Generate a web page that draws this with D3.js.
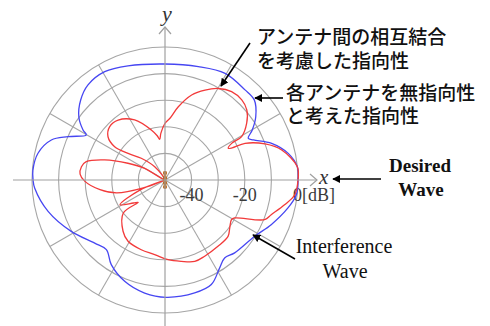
<!DOCTYPE html>
<html>
<head>
<meta charset="utf-8">
<script src="https://cdn.jsdelivr.net/npm/d3@7"></script>
<style>
  html, body { margin: 0; padding: 0; background: #fff; }
  svg { display: block; }
</style>
</head>
<body>
<svg id="chart" width="490" height="326"></svg>
<script>
// Ring levels (dB) and spoke directions (degrees, counter-clockwise from +x)
const ringLevels = [-40, -30, -20, -10, 0];
const spokeAngles = [30, 60, 120, 150, 210, 240, 300, 330];
const tickValues = [-40, -20, 0];
const tickLabels = ["-40", "-20", "0[dB]"];

// Pattern with every element treated as omnidirectional
const omniAngles = [0, 5.7, 12.2, 19, 24.4, 26.6, 29.8, 34.9, 41.9, 48.4, 60.6, 73.6, 90,
  108, 119.1, 129, 136.5, 143.7, 148.6, 150.2, 155.9, 160.6, 168.1, 175.7, 180, 183.5,
  195, 208.7, 221.9, 229.9, 237.6, 248.3, 259.8, 270.6, 284.7, 293.9, 301.9, 307.4,
  313.7, 327.9, 337.2, 347.2, 353.6, 360];
const omniDb = [0, 0, -2.6, -7.6, -13.5, -15, -12.2, -8.4, -4.9, -4.7, -4, -5.6, -6.4,
  -4.9, -3.4, -4, -6.3, -9.8, -13.9, -15.9, -10.1, -4.7, -1.2, -0.2, -0.4, -0.9,
  -4.5, -9.8, -14.5, -15.8, -12.3, -9, -6.8, -5.9, -6.1, -7, -11.1, -13.1,
  -12.1, -10.2, -6.7, -2.6, -0.3, 0];

// Pattern including mutual coupling between elements (measured trace, in order)
const coupledAngles = [0, 5.7, 14.4, 19.8, 24.6, 25.6, 26.6, 28.8, 29.5, 34.8, 40.6, 46.2,
  53, 59.8, 66, 72.6, 79.7, 85.4, 90, 95, 97.5, 100, 105.3, 116.8, 128, 136, 142.8,
  146.5, 144.2, 137.5, 127.8, 130, 150, 155.7, 161.6, 166.9, 171, 176, 181, 188.5,
  195, 200, 200, 201.8, 208.8, 216, 219.9, 218.4, 230.7, 238.9, 251.2, 262.1, 272.2,
  281.3, 290.1, 297.5, 308.6, 318.2, 323.4, 329.1, 331.4, 338.3, 341.9, 348.3, 353.5, 360];
const coupledDb = [0, 0, -4.7, -10, -16.9, -22, -23.4, -21.4, -16.9, -12.6, -9.5, -8.3,
  -8.4, -10.2, -13, -16.5, -22, -26.7, -28.7, -32.3, -34.6, -33.1, -30.5, -24.7, -21.4, -21.1, -23.1,
  -27.3, -32.9, -37.9, -43.7, -50, -41.2, -34.7, -26.1, -19.6, -18.2, -18, -19.9, -25.3,
  -31.2, -41.3, -50, -39.8, -30.7, -35.3, -36.9, -30, -25.1, -23.1, -22.3, -21.7, -20,
  -18.8, -17.4, -17.7, -18.1, -18.2, -19.7, -20.9, -20.2, -9.7, -8, -4.1, -0.9, 0];

const svg = d3.select("#chart");
const cx = 165, cy = 180, R = 133;
const r = d3.scaleLinear().domain([-50, 0]).range([0, R]).clamp(true);
const toRad = deg => (90 - deg) * Math.PI / 180;   // d3 radial: clockwise from 12 o'clock

const g = svg.append("g").attr("transform", `translate(${cx},${cy})`);
const gridColor = "#a6a6a6";

// Grid rings
g.selectAll("circle.ring").data(ringLevels).join("circle")
  .attr("class", "ring")
  .attr("r", d => r(d))
  .attr("fill", "none")
  .attr("stroke", gridColor)
  .attr("stroke-width", 1.1);

// Spokes
g.selectAll("line.spoke").data(spokeAngles).join("line")
  .attr("class", "spoke")
  .attr("x1", 0).attr("y1", 0)
  .attr("x2", d => r(0) * Math.sin(toRad(d)))
  .attr("y2", d => -r(0) * Math.cos(toRad(d)))
  .attr("stroke", gridColor)
  .attr("stroke-width", 1.1);

// Axes with open arrowheads
const axisColor = "#a0a0a0";
svg.append("line").attr("x1", 13).attr("y1", cy).attr("x2", 317).attr("y2", cy)
  .attr("stroke", axisColor).attr("stroke-width", 1.2);
svg.append("path").attr("d", "M310,174 L317,180 L310,186")
  .attr("fill", "none").attr("stroke", axisColor).attr("stroke-width", 1.2);
svg.append("line").attr("x1", cx).attr("y1", 326).attr("x2", cx).attr("y2", 27)
  .attr("stroke", axisColor).attr("stroke-width", 1.2);
svg.append("path").attr("d", "M159,34 L165,27 L171,34")
  .attr("fill", "none").attr("stroke", axisColor).attr("stroke-width", 1.2);

const serif = "Liberation Serif, Times New Roman, serif";
svg.append("text").attr("x", 319).attr("y", 184)
  .attr("font-family", serif)
  .attr("font-style", "italic").attr("font-size", 21).attr("fill", "#333").text("x");
svg.append("text").attr("x", 167).attr("y", 21).attr("text-anchor", "middle")
  .attr("font-family", serif)
  .attr("font-style", "italic").attr("font-size", 22).attr("fill", "#333").text("y");

// dB tick labels along +x
g.selectAll("text.tick").data(tickValues).join("text")
  .attr("class", "tick")
  .attr("x", (d, i) => i === tickValues.length - 1 ? r(d) - 5 : r(d))
  .attr("y", 21)
  .attr("text-anchor", (d, i) => i === tickValues.length - 1 ? "start" : "middle")
  .attr("font-family", serif)
  .attr("font-size", 18).attr("fill", "#3a3a3a")
  .text((d, i) => tickLabels[i]);

// Pattern traces
const radial = d3.lineRadial()
  .angle(d => toRad(d[0]))
  .radius(d => r(d[1]))
  .curve(d3.curveCatmullRom.alpha(0.5));

g.append("path")
  .datum(omniAngles.map((a, i) => [a, omniDb[i]]))
  .attr("d", radial)
  .attr("fill", "none").attr("stroke", "#4646f2").attr("stroke-width", 1.3);

g.append("path")
  .datum(coupledAngles.map((a, i) => [a, coupledDb[i]]))
  .attr("d", radial)
  .attr("fill", "none").attr("stroke", "#f23a3a").attr("stroke-width", 1.3);

// Array elements at the origin
g.append("line").attr("x1", 0).attr("y1", -9).attr("x2", 0).attr("y2", 8)
  .attr("stroke", "#c47a1c").attr("stroke-width", 2.5);
g.selectAll("circle.elem").data([-7, -2, 3, 7]).join("circle")
  .attr("class", "elem")
  .attr("cx", 0).attr("cy", d => d).attr("r", 2)
  .attr("fill", "#b8651a");

// Annotations
const defs = svg.append("defs");
defs.append("marker").attr("id", "head")
  .attr("viewBox", "0 0 10 10").attr("refX", 9).attr("refY", 5)
  .attr("markerWidth", 8).attr("markerHeight", 8).attr("orient", "auto")
  .attr("markerUnits", "userSpaceOnUse")
  .append("path").attr("d", "M0,0 L10,5 L0,10 z").attr("fill", "#000");

const arrows = [
  [250, 43, 221, 86],
  [283, 98, 255, 98],
  [381, 179, 333, 179],
  [295, 259, 253, 235]
];
svg.selectAll("line.arrow").data(arrows).join("line")
  .attr("class", "arrow")
  .attr("x1", d => d[0]).attr("y1", d => d[1])
  .attr("x2", d => d[2]).attr("y2", d => d[3])
  .attr("stroke", "#000").attr("stroke-width", 1.6)
  .attr("marker-end", "url(#head)");

const jp = "Noto Sans CJK JP, sans-serif";
const jpLines = [
  ["アンテナ間の相互結合", 257, 44],
  ["を考慮した指向性", 257, 68],
  ["各アンテナを無指向性", 286, 100],
  ["と考えた指向性", 286, 123]
];
svg.selectAll("text.jp").data(jpLines).join("text")
  .attr("class", "jp")
  .attr("x", d => d[1]).attr("y", d => d[2])
  .attr("font-family", jp).attr("font-size", 19).attr("font-weight", 500).attr("fill", "#111")
  .text(d => d[0]);

svg.append("text").attr("x", 420).attr("y", 172).attr("text-anchor", "middle")
  .attr("font-family", serif).attr("font-weight", "bold").attr("font-size", 19)
  .attr("fill", "#111").text("Desired");
svg.append("text").attr("x", 421).attr("y", 196).attr("text-anchor", "middle")
  .attr("font-family", serif).attr("font-weight", "bold").attr("font-size", 19)
  .attr("fill", "#111").text("Wave");
svg.append("text").attr("x", 344).attr("y", 253).attr("text-anchor", "middle")
  .attr("font-family", serif).attr("font-size", 20)
  .attr("fill", "#111").text("Interference");
svg.append("text").attr("x", 345).attr("y", 278).attr("text-anchor", "middle")
  .attr("font-family", serif).attr("font-size", 20)
  .attr("fill", "#111").text("Wave");
</script>
</body>
</html>
